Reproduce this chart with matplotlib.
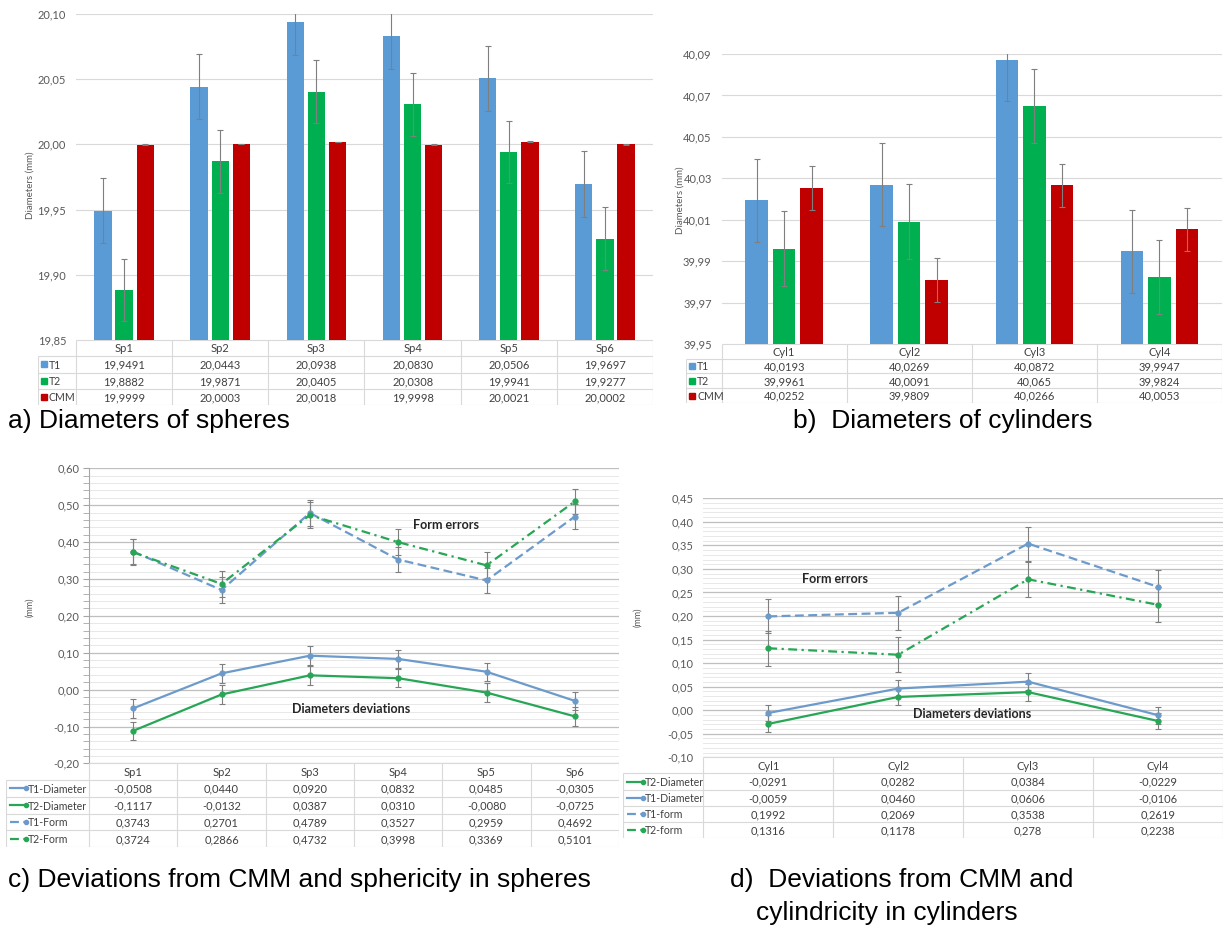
import numpy as np
import matplotlib
matplotlib.use('Agg')
import matplotlib.pyplot as plt
from matplotlib.ticker import FuncFormatter, MultipleLocator

plt.rcParams['font.family'] = ['Lato', 'DejaVu Sans']

# table values as printed in the source (comma decimals), parsed for plotting
# ---- a) diameters of spheres
spheres = ['Sp1', 'Sp2', 'Sp3', 'Sp4', 'Sp5', 'Sp6']
sph_t1 = ['19,9491', '20,0443', '20,0938', '20,0830', '20,0506', '19,9697']
sph_t2 = ['19,8882', '19,9871', '20,0405', '20,0308', '19,9941', '19,9277']
sph_cmm = ['19,9999', '20,0003', '20,0018', '19,9998', '20,0021', '20,0002']
sph_err = [0.025, 0.024, 0.0003]

# ---- b) diameters of cylinders
cylinders = ['Cyl1', 'Cyl2', 'Cyl3', 'Cyl4']
cyl_t1 = ['40,0193', '40,0269', '40,0872', '39,9947']
cyl_t2 = ['39,9961', '40,0091', '40,065', '39,9824']
cyl_cmm = ['40,0252', '39,9809', '40,0266', '40,0053']
cyl_err = [0.020, 0.018, 0.0105]

bar_labels = ['T1', 'T2', 'CMM']

# ---- c) deviations from CMM and sphericity
sph_t1_diam = ['-0,0508', '0,0440', '0,0920', '0,0832', '0,0485', '-0,0305']
sph_t2_diam = ['-0,1117', '-0,0132', '0,0387', '0,0310', '-0,0080', '-0,0725']
sph_t1_form = ['0,3743', '0,2701', '0,4789', '0,3527', '0,2959', '0,4692']
sph_t2_form = ['0,3724', '0,2866', '0,4732', '0,3998', '0,3369', '0,5101']
sph_dev_labels = ['T1-Diameter', 'T2-Diameter', 'T1-Form', 'T2-Form']
sph_dev_err = [0.025, 0.025, 0.035, 0.035]

# ---- d) deviations from CMM and cylindricity
cyl_t2_diam = ['-0,0291', '0,0282', '0,0384', '-0,0229']
cyl_t1_diam = ['-0,0059', '0,0460', '0,0606', '-0,0106']
cyl_t1_form = ['0,1992', '0,2069', '0,3538', '0,2619']
cyl_t2_form = ['0,1316', '0,1178', '0,278', '0,2238']
cyl_dev_labels = ['T2-Diameter', 'T1-Diameter', 'T1-form', 'T2-form']
cyl_dev_err = [0.018, 0.018, 0.036, 0.037]

# colours / styles
BLUE, GREEN, RED = '#5b9bd5', '#00b050', '#c00000'
LBLUE, LGREEN = '#6c9bcb', '#27a655'
bar_colors = [BLUE, GREEN, RED]
sty_t1d = dict(color=LBLUE, ls='-')
sty_t2d = dict(color=LGREEN, ls='-')
sty_t1f = dict(color=LBLUE, ls=(0, (4, 2)))
sty_t2f = dict(color=LGREEN, ls=(0, (4, 2, 1, 2)))
TXT = '#404040'
GRIDC = '#d9d9d9'

W, H = 1224, 930
fig = plt.figure(figsize=(W / 100, H / 100), dpi=100)


def num(vals):
    return [float(v.replace(',', '.')) for v in vals]


def px(x0, y0, x1, y1):
    return [x0 / W, 1 - y1 / H, (x1 - x0) / W, (y1 - y0) / H]


comma = FuncFormatter(lambda v, p: f'{v:.2f}'.replace('.', ','))


def base_axes(ax, n):
    ax.set_xlim(-0.5, n - 0.5)
    ax.set_xticks([])
    for s in ax.spines.values():
        s.set_visible(False)
    ax.tick_params(axis='y', which='both', length=0, labelsize=8,
                   labelcolor='#595959', pad=7)
    ax.yaxis.set_major_formatter(comma)
    ax.set_axisbelow(True)


def bar_panel(rect, cats, series, errs, lo, hi, step):
    ax = fig.add_axes(px(*rect))
    x = np.arange(len(cats))
    for k, (vals, err) in enumerate(zip(series, errs)):
        ax.bar(x + (k - 1) * 0.22, num(vals), width=0.18, color=bar_colors[k],
               yerr=err, error_kw=dict(ecolor='#7f7f7f', elinewidth=0.8,
                                       capsize=2, capthick=0.8))
    ax.set_ylim(lo, hi)
    ax.set_yticks(np.arange(lo, hi + step / 2, step))
    ax.grid(axis='y', color=GRIDC, lw=0.8)
    base_axes(ax, len(cats))
    return ax


def line_panel(rect, cats, series, styles, errs, lo, hi, major, minor):
    ax = fig.add_axes(px(*rect))
    x = np.arange(len(cats))
    for vals, st, err in zip(series, styles, errs):
        ax.errorbar(x, num(vals), yerr=err, color=st['color'], ls=st['ls'], lw=1.6,
                    marker='o', ms=3.5, ecolor='#7f7f7f', elinewidth=0.8,
                    capsize=2, capthick=0.8)
    ax.set_ylim(lo, hi)
    ax.yaxis.set_major_locator(MultipleLocator(major))
    ax.yaxis.set_minor_locator(MultipleLocator(minor))
    ax.grid(axis='y', which='major', color='#bfbfbf', lw=0.9)
    ax.grid(axis='y', which='minor', color='#e8e8e8', lw=0.7)
    base_axes(ax, len(cats))
    return ax


def data_table(rect, plot_left, cats, labels, rows, keys):
    x0, y0, x1, y1 = rect
    n = len(cats)
    cw = (x1 - plot_left) / n
    xl = -0.5 - (plot_left - x0) / cw
    nr = len(rows)
    ax = fig.add_axes(px(*rect))
    ax.set_xlim(xl, n - 0.5)
    ax.set_ylim(nr + 1, 0)
    ax.axis('off')
    ax.hlines(0, -0.5, n - 0.5, color=GRIDC, lw=0.8)
    ax.hlines(np.arange(1, nr + 2), xl, n - 0.5, color=GRIDC, lw=0.8)
    ax.vlines(np.arange(n + 1) - 0.5, 0, nr + 1, color=GRIDC, lw=0.8)
    ax.vlines(xl, 1, nr + 1, color=GRIDC, lw=0.8)
    for i, c in enumerate(cats):
        ax.text(i, 0.55, c, ha='center', va='center', fontsize=8, color=TXT)
    for r, (lab, vals, key) in enumerate(zip(labels, rows, keys)):
        yy = r + 1.55
        for i, v in enumerate(vals):
            ax.text(i, yy, v, ha='center', va='center', fontsize=8, color=TXT)
        if 'ls' in key:
            ax.plot([xl + 4 / cw, xl + 20 / cw], [yy - 0.05] * 2, color=key['color'],
                    ls=key['ls'], lw=1.6, marker='o', ms=3, markevery=[1])
            tx = xl + 22 / cw
        else:
            ax.plot(xl + 6 / cw, yy - 0.05, 's', color=key['color'], ms=5)
            tx = xl + 11 / cw
        ax.text(tx, yy, lab, ha='left', va='center', fontsize=7.6, color=TXT)
    return ax


# a)
bar_panel((76, 14, 653, 340), spheres, [sph_t1, sph_t2, sph_cmm], sph_err,
          19.85, 20.10, 0.05)
data_table((38, 340, 653, 405), 76, spheres, bar_labels,
           [sph_t1, sph_t2, sph_cmm], [dict(color=c) for c in bar_colors])
fig.text(30 / W, 1 - 185 / H, 'Diameters (mm)', rotation=90, fontsize=7,
         color='#595959', ha='center', va='center')

# b)
bar_panel((721.5, 54, 1222, 344), cylinders, [cyl_t1, cyl_t2, cyl_cmm], cyl_err,
          39.95, 40.09, 0.02)
data_table((686, 344, 1222, 403), 721.5, cylinders, bar_labels,
           [cyl_t1, cyl_t2, cyl_cmm], [dict(color=c) for c in bar_colors])
fig.text(680 / W, 1 - 200 / H, 'Diameters (mm)', rotation=90, fontsize=7,
         color='#595959', ha='center', va='center')

# c)
axc = line_panel((89, 468.3, 619, 763.4), spheres,
                 [sph_t1_diam, sph_t2_diam, sph_t1_form, sph_t2_form],
                 [sty_t1d, sty_t2d, sty_t1f, sty_t2f], sph_dev_err,
                 -0.20, 0.60, 0.10, 0.02)
axc.spines['left'].set_visible(True)
axc.spines['left'].set_color('#a6a6a6')
axc.tick_params(axis='y', which='both', length=4, color='#a6a6a6', pad=3)
axc.text(3.54, 0.446, 'Form errors', ha='center', va='center', fontsize=9,
         fontweight='bold', color='#262626')
axc.text(2.47, -0.053, 'Diameters deviations', ha='center', va='center', fontsize=9,
         fontweight='bold', color='#262626')
data_table((6, 763.4, 619, 847), 89, spheres, sph_dev_labels,
           [sph_t1_diam, sph_t2_diam, sph_t1_form, sph_t2_form],
           [sty_t1d, sty_t2d, sty_t1f, sty_t2f])
fig.text(30 / W, 1 - 607 / H, '(mm)', rotation=90, fontsize=6.5,
         color='#595959', ha='center', va='center')

# d)
axd = line_panel((703.3, 498.3, 1223, 757.3), cylinders,
                 [cyl_t2_diam, cyl_t1_diam, cyl_t1_form, cyl_t2_form],
                 [sty_t2d, sty_t1d, sty_t1f, sty_t2f], cyl_dev_err,
                 -0.10, 0.45, 0.05, 0.01)
axd.text(0.51, 0.279, 'Form errors', ha='center', va='center', fontsize=9,
         fontweight='bold', color='#262626')
axd.text(1.57, -0.008, 'Diameters deviations', ha='center', va='center', fontsize=9,
         fontweight='bold', color='#262626')
data_table((623, 757.3, 1223, 838), 703.3, cylinders, cyl_dev_labels,
           [cyl_t2_diam, cyl_t1_diam, cyl_t1_form, cyl_t2_form],
           [sty_t2d, sty_t1d, sty_t1f, sty_t2f])
fig.text(638 / W, 1 - 617 / H, '(mm)', rotation=90, fontsize=6.5,
         color='#595959', ha='center', va='center')

# captions
cap = dict(fontsize=19, family=['Liberation Sans', 'DejaVu Sans'], va='center')
fig.text(8 / W, 1 - 421 / H, 'a) Diameters of spheres', **cap)
fig.text(793 / W, 1 - 421 / H, 'b)  Diameters of cylinders', **cap)
fig.text(8 / W, 1 - 880 / H, 'c) Deviations from CMM and sphericity in spheres', **cap)
fig.text(730 / W, 1 - 880 / H, 'd)  Deviations from CMM and', **cap)
fig.text(756 / W, 1 - 913 / H, 'cylindricity in cylinders', **cap)

fig.savefig('out.png', dpi=100)
